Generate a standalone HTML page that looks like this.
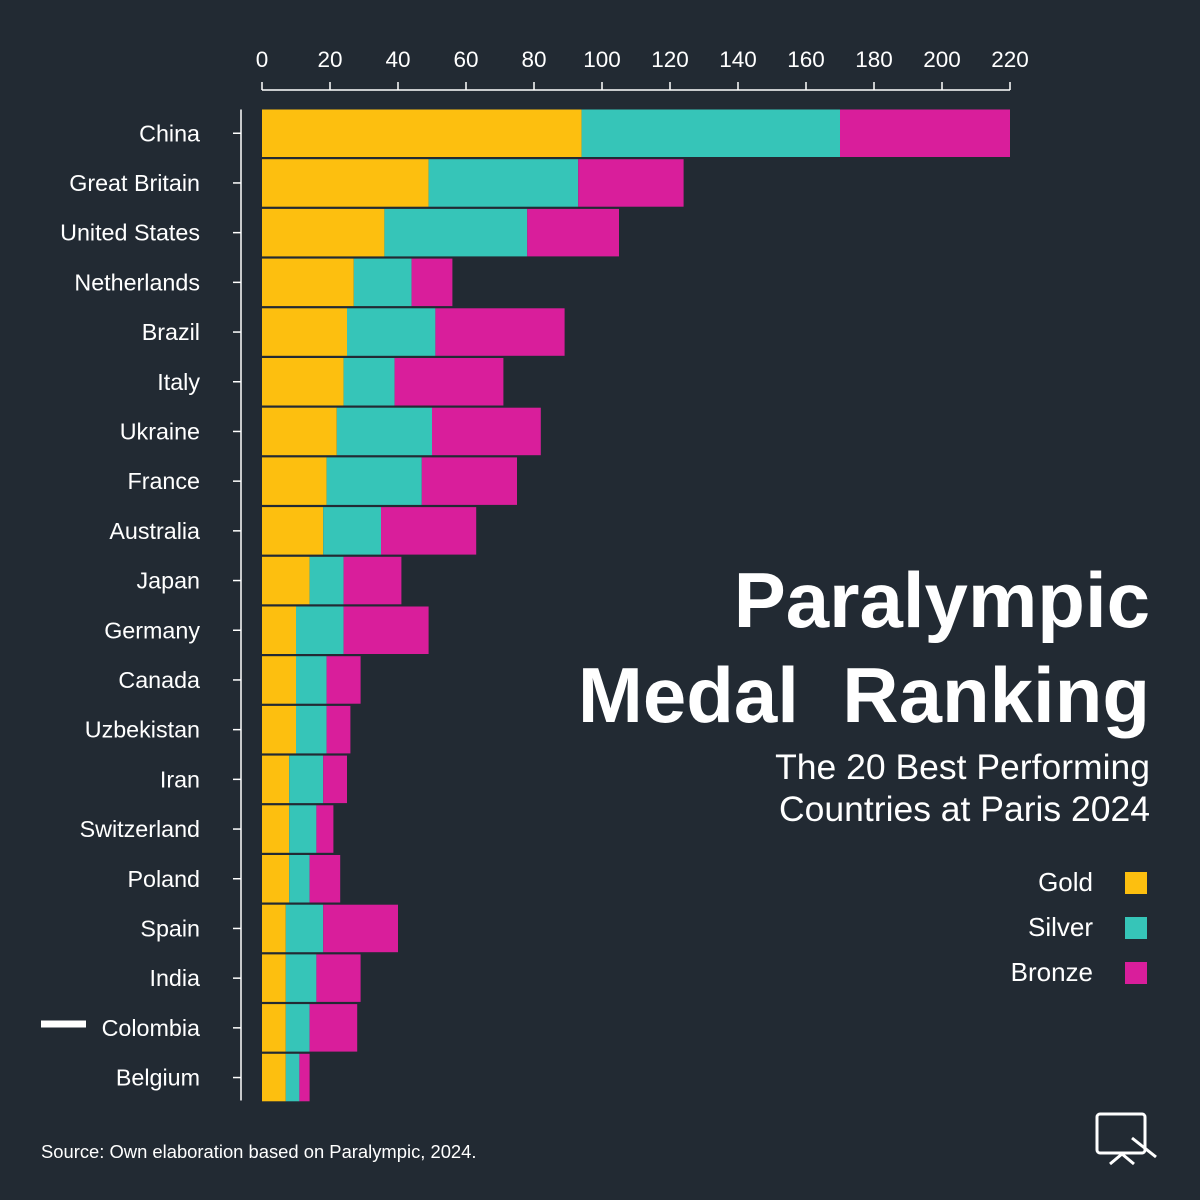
<!DOCTYPE html>
<html><head><meta charset="utf-8"><style>
html,body{margin:0;padding:0;background:#222a33;}
svg{display:block;font-family:"Liberation Sans","DejaVu Sans",sans-serif;}
</style></head><body>
<svg id="chart" width="1200" height="1200" viewBox="0 0 1200 1200" xmlns="http://www.w3.org/2000/svg">
<rect x="0" y="0" width="1200" height="1200" fill="#222a33"/>
<g id="bars"></g>
<g id="yaxis"></g>
<g id="xaxis"></g>
<line x1="41" y1="1024" x2="86" y2="1024" stroke="#fff" stroke-width="7"/>
<text x="1150" y="627" text-anchor="end" fill="#fff" font-size="78" font-weight="bold">Paralympic</text>
<text x="1150" y="722" text-anchor="end" fill="#fff" font-size="78" font-weight="bold" xml:space="preserve">Medal  Ranking</text>
<text x="1150" y="779" text-anchor="end" fill="#fff" font-size="35.5">The 20 Best Performing</text>
<text x="1150" y="821" text-anchor="end" fill="#fff" font-size="35.5">Countries at Paris 2024</text>
<g>
<text x="1093" y="891" text-anchor="end" fill="#fff" font-size="26">Gold</text>
<rect x="1125" y="872" width="22" height="22" fill="#fdbf0f"/>
<text x="1093" y="936" text-anchor="end" fill="#fff" font-size="26">Silver</text>
<rect x="1125" y="917" width="22" height="22" fill="#36c5b8"/>
<text x="1093" y="981" text-anchor="end" fill="#fff" font-size="26">Bronze</text>
<rect x="1125" y="962" width="22" height="22" fill="#d91e9b"/>
</g>
<text x="41" y="1158" fill="#fff" font-size="18.4">Source: Own elaboration based on Paralympic, 2024.</text>
<g fill="none" stroke="#fff" stroke-width="3">
<rect x="1097" y="1114" width="48" height="39" rx="3"/>
<line x1="1132" y1="1138" x2="1156" y2="1157"/>
<polyline points="1110,1164 1122,1154 1134,1164"/>
</g>
</svg>
<script>
const countries=["China","Great Britain","United States","Netherlands","Brazil","Italy","Ukraine","France","Australia","Japan","Germany","Canada","Uzbekistan","Iran","Switzerland","Poland","Spain","India","Colombia","Belgium"];
const gold=[94,49,36,27,25,24,22,19,18,14,10,10,10,8,8,8,7,7,7,7];
const silver=[76,44,42,17,26,15,28,28,17,10,14,9,9,10,8,6,11,9,7,4];
const bronze=[50,31,27,12,38,32,32,28,28,17,25,10,7,7,5,9,22,13,14,3];
const xTicks=[0,20,40,60,80,100,120,140,160,180,200,220];
const NS="http://www.w3.org/2000/svg";
const x0=262,x1=1010,xMax=220;
const xs=v=>x0+(x1-x0)*v/xMax;
const top0=109.5,band=49.7,barH=47.5;
const yc=i=>top0+band*i+barH/2;
function mk(t,a){const e=document.createElementNS(NS,t);for(const k in a)e.setAttribute(k,a[k]);return e;}
const bars=document.getElementById('bars'),ya=document.getElementById('yaxis'),xa=document.getElementById('xaxis');
const series=[[gold,"#fdbf0f","gold"],[silver,"#36c5b8","silver"],[bronze,"#d91e9b","bronze"]];
countries.forEach((c,i)=>{
  let acc=0;
  series.forEach(([arr,col,nm])=>{
    const r=mk('rect',{x:xs(acc),y:yc(i)-barH/2,width:xs(acc+arr[i])-xs(acc),height:barH,fill:col});
    
    
    bars.appendChild(r);acc+=arr[i];
  });
  const t=mk('text',{x:200,y:yc(i)+8,'text-anchor':'end',fill:'#fff','font-size':23.3});
  t.textContent=c;
  
  
  ya.appendChild(t);
  const tk=mk('line',{x1:233,x2:241,y1:yc(i),y2:yc(i),stroke:'#fff','stroke-width':1.5});
  
  
  ya.appendChild(tk);
});
const al=mk('line',{x1:241,x2:241,y1:top0,y2:top0+band*20-3,stroke:'#fff','stroke-width':1.5});


ya.appendChild(al);
xTicks.forEach(v=>{
  const t=mk('text',{x:xs(v),y:67,'text-anchor':'middle',fill:'#fff','font-size':22.5});
  t.textContent=v;
  
  
  xa.appendChild(t);
  const tk=mk('line',{x1:xs(v),x2:xs(v),y1:82,y2:90,stroke:'#fff','stroke-width':1.5});
  
  
  xa.appendChild(tk);
});
const xl=mk('line',{x1:x0,x2:x1,y1:90,y2:90,stroke:'#fff','stroke-width':1.5});


xa.appendChild(xl);
</script>
</body></html>
